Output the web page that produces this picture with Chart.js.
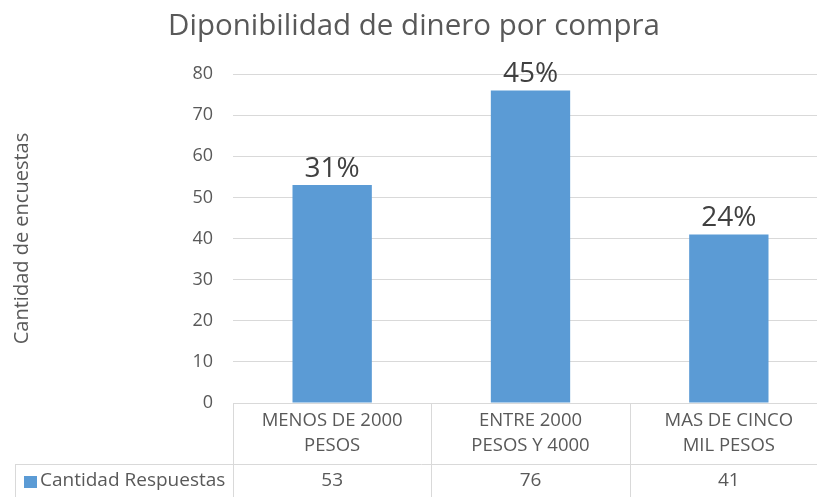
<!DOCTYPE html>
<html>
<head>
<meta charset="utf-8">
<script src="https://cdn.jsdelivr.net/npm/chart.js@4"></script>
<style>
  html, body { margin: 0; padding: 0; background: #fff; overflow: hidden; }
  #wrap { width: 828px; height: 497px; position: relative; }
</style>
</head>
<body>
<div id="wrap"><canvas id="chart"></canvas></div>
<script>
// chart data
var categories = [["MENOS DE 2000", "PESOS"], ["ENTRE 2000", "PESOS Y 4000"], ["MAS DE CINCO", "MIL PESOS"]];
var respuestas = [53, 76, 41];
var pctLabels = ["31%", "45%", "24%"];
var seriesName = "Cantidad Respuestas";
var yTicks = [0, 10, 20, 30, 40, 50, 60, 70, 80];

var barColor = "#5b9bd5";
var gridColor = "#d9d9d9";
var textColor = "#595959";
var fontFam = "'Open Sans', sans-serif";

/**
 * Percent labels on top of the bars
 */
var barLabels = {
    id: 'barLabels',
    afterDatasetsDraw: function (chart) {
        let ctx = chart.ctx;
        let meta = chart.getDatasetMeta(0);
        ctx.save();
        ctx.font = "28px " + fontFam;
        ctx.fillStyle = "#404040";
        ctx.textAlign = "center";
        ctx.textBaseline = "alphabetic";
        meta.data.forEach(function (bar, i) {
            ctx.fillText(pctLabels[i], bar.x, bar.y - 8);
        });
        ctx.restore();
    }
};

/**
 * Data table below the plot (excel style)
 */
var dataTable = {
    id: 'dataTable',
    afterDraw: function (chart) {
        let ctx = chart.ctx;
        let area = chart.chartArea;
        let xs = chart.scales.x;
        let n = categories.length;
        let w = (area.right - area.left) / n;
        let top = area.bottom;
        let mid = top + 61;
        let bottom = chart.height;
        let keyLeft = 15;

        ctx.save();
        ctx.strokeStyle = gridColor;
        ctx.lineWidth = 1;
        ctx.beginPath();
        ctx.moveTo(area.left, top + 0.5);
        ctx.lineTo(area.right, top + 0.5);
        ctx.moveTo(keyLeft, mid + 0.5);
        ctx.lineTo(area.right, mid + 0.5);
        ctx.moveTo(keyLeft + 0.5, mid);
        ctx.lineTo(keyLeft + 0.5, bottom);
        for (let i = 0; i < n; i++) {
            let x = Math.round(area.left + i * w) + 0.5;
            ctx.moveTo(x, top);
            ctx.lineTo(x, bottom);
        }
        ctx.stroke();

        ctx.fillStyle = textColor;
        ctx.textAlign = "center";
        ctx.textBaseline = "middle";
        for (let i = 0; i < n; i++) {
            let cx = xs.getPixelForValue(i);
            ctx.font = "18.5px " + fontFam;
            ctx.fillText(categories[i][0], cx, top + 18);
            ctx.fillText(categories[i][1], cx, top + 43);
            ctx.font = "19px " + fontFam;
            ctx.fillText(String(respuestas[i]), cx, mid + 17);
        }

        // legend key
        ctx.fillStyle = barColor;
        ctx.fillRect(24, mid + 12, 13, 12);
        ctx.fillStyle = textColor;
        ctx.textAlign = "left";
        ctx.font = "19px " + fontFam;
        ctx.fillText(seriesName, 40, mid + 17);
        ctx.restore();
    }
};

new Chart(document.getElementById('chart'), {
    type: 'bar',
    data: {
        labels: categories.map(c => c.join(" ")),
        datasets: [{
            label: seriesName,
            data: respuestas,
            backgroundColor: barColor,
            barPercentage: 0.8,
            categoryPercentage: 0.5
        }]
    },
    options: {
        responsive: true,
        maintainAspectRatio: false,
        animation: false,
        layout: { padding: 0 },
        plugins: {
            legend: { display: false },
            tooltip: { enabled: false },
            title: {
                display: true,
                text: "Diponibilidad de dinero por compra",
                color: textColor,
                font: { family: fontFam, size: 29.5, weight: 'normal', lineHeight: 1.2 },
                padding: { top: 9, bottom: 29.6 }
            }
        },
        scales: {
            x: {
                grid: { display: false },
                border: { display: false },
                ticks: { display: false },
                afterFit: function (scale) { scale.height = 94; }
            },
            y: {
                min: 0,
                max: 80,
                afterBuildTicks: function (scale) {
                    scale.ticks = yTicks.map(v => ({ value: v }));
                },
                grid: { color: gridColor, drawTicks: false },
                border: { display: false },
                ticks: {
                    color: textColor,
                    font: { family: fontFam, size: 18 },
                    padding: 20
                },
                title: {
                    display: true,
                    text: "Cantidad de encuestas",
                    color: textColor,
                    font: { family: fontFam, size: 20 },
                    padding: { top: 10, bottom: 0 }
                },
                afterFit: function (scale) { scale.width = 233; }
            }
        }
    },
    plugins: [barLabels, dataTable]
});
</script>
</body>
</html>
